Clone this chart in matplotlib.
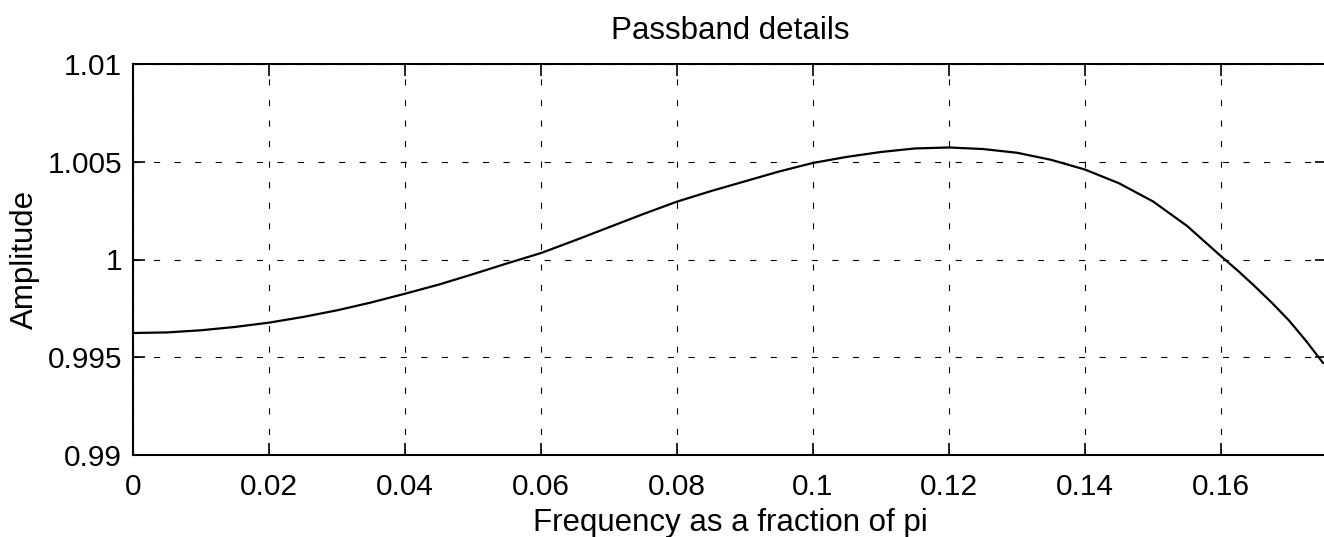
import numpy as np
import matplotlib
matplotlib.use('Agg')
import matplotlib.pyplot as plt

# frequency (fraction of pi) and amplitude
freq = [0.000, 0.005, 0.010, 0.015, 0.020, 0.025, 0.030, 0.035, 0.040, 0.045,
        0.050, 0.055, 0.060, 0.065, 0.070, 0.075, 0.080, 0.085, 0.090, 0.095,
        0.100, 0.105, 0.110, 0.115, 0.120, 0.125, 0.130, 0.135, 0.140, 0.145,
        0.150, 0.155, 0.160, 0.1625, 0.165, 0.1675, 0.170, 0.1725, 0.175]
amp = [0.99624, 0.99627, 0.99638, 0.99655, 0.99677, 0.99706, 0.99740, 0.99780, 0.99825, 0.99872,
       0.99925, 0.99980, 1.00033, 1.00098, 1.00165, 1.00232, 1.00296, 1.00350, 1.00400, 1.00450,
       1.00494, 1.00525, 1.00550, 1.00568, 1.00573, 1.00565, 1.00546, 1.00510, 1.00460, 1.00390,
       1.00297, 1.00172, 1.00017, 0.99942, 0.99862, 0.99778, 0.99688, 0.99584, 0.99471]

xticks = [0, 0.02, 0.04, 0.06, 0.08, 0.1, 0.12, 0.14, 0.16]
xticklabels = ['0', '0.02', '0.04', '0.06', '0.08', '0.1', '0.12', '0.14', '0.16']
yticks = [0.99, 0.995, 1.0, 1.005, 1.01]
yticklabels = ['0.99', '0.995', '1', '1.005', '1.01']

plt.rcParams['font.family'] = ['Liberation Sans', 'DejaVu Sans']
fs = 21.5
fs_lab = 22.5

fig = plt.figure(figsize=(13.24, 5.37), dpi=100)
ax = fig.add_axes([133 / 1324, 82 / 537, 1194 / 1324, 391 / 537])

ax.plot(freq, amp, color='black', lw=1.6)

ax.set_xlim(0, 1194 / 6800)
ax.set_ylim(0.99, 1.01)
ax.set_xticks(xticks)
ax.set_xticklabels(xticklabels)
ax.set_yticks(yticks)
ax.set_yticklabels(yticklabels)

ax.grid(True, color='black', lw=0.8, linestyle=(0, (5.5, 13)))
ax.tick_params(direction='in', length=8.5, width=1.2, labelsize=fs,
               top=True, right=True, colors='black')
ax.tick_params(axis='x', pad=13)
ax.tick_params(axis='y', pad=8)
for s in ax.spines.values():
    s.set_linewidth(1.5)

ax.set_title('Passband details', fontsize=fs_lab, pad=18)
ax.set_xlabel('Frequency as a fraction of pi', fontsize=fs_lab, labelpad=5)
ax.set_ylabel('Amplitude', fontsize=fs_lab, labelpad=5)

fig.savefig('out.png', dpi=100)
